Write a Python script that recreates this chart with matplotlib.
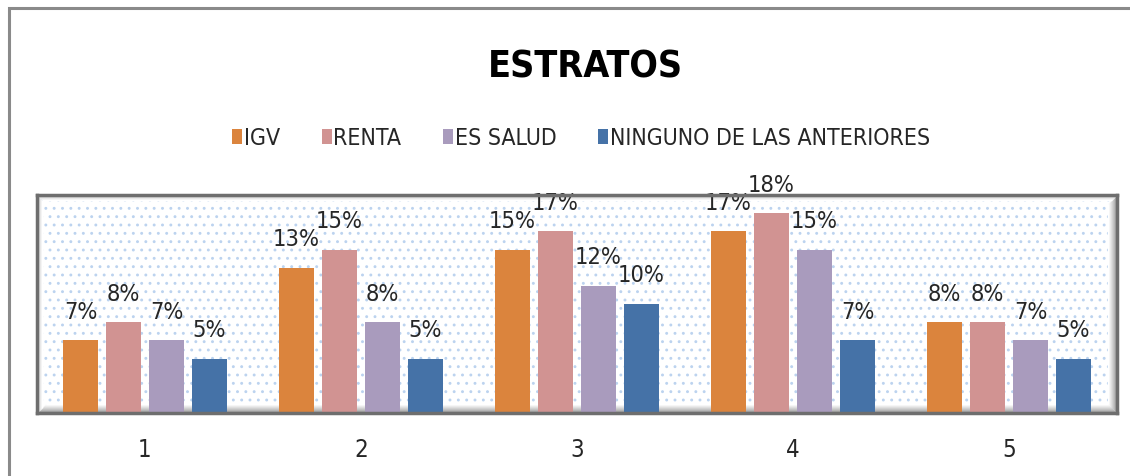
import matplotlib
matplotlib.use("Agg")
import matplotlib.pyplot as plt
from matplotlib.patches import Rectangle, Patch
from matplotlib import font_manager as fm
import numpy as np

# ---- data (percent of respondents) ----
categories = ["1", "2", "3", "4", "5"]
series_names = ["IGV", "RENTA", "ES SALUD", "NINGUNO DE LAS ANTERIORES"]
igv = [6.67, 13.33, 15.00, 16.67, 8.33]
renta = [8.33, 15.00, 16.67, 18.33, 8.33]
es_salud = [6.67, 8.33, 11.67, 15.00, 6.67]
ninguno = [5.00, 5.00, 10.00, 6.67, 5.00]
title = "ESTRATOS"

series = [igv, renta, es_salud, ninguno]
colors = ["#DB843D", "#D19392", "#A99BBD", "#4572A7"]


def find_narrow(bold):
    """Return path of a narrow/condensed font face if installed."""
    cands = []
    for f in fm.fontManager.ttflist:
        nm = f.name.lower()
        fn = f.fname.lower()
        narrow = ("narrow" in nm or "narrow" in fn or "condensed" in fn
                  or "condensed" in nm or f.stretch in ("condensed", "semi-condensed"))
        if not narrow:
            continue
        if f.style != "normal" or "italic" in fn or "oblique" in fn:
            continue
        w = f.weight if isinstance(f.weight, int) else fm.weight_dict.get(f.weight, 400)
        if bold and w < 600:
            continue
        if not bold and w >= 600:
            continue
        if not bold and w < 350:
            continue
        score = 0
        if "liberation" in nm:
            score = 3
        elif "dejavu" in nm and "sans" in nm and "mono" not in nm:
            score = 2
        elif "sans" in nm:
            score = 1
        cands.append((score, f.fname))
    if not cands:
        return None
    cands.sort(reverse=True)
    return cands[0][1]


reg_path = find_narrow(False)
bold_path = find_narrow(True)


def fprops(size, bold=False):
    path = bold_path if bold else reg_path
    if path:
        return fm.FontProperties(fname=path, size=size)
    return fm.FontProperties(family=["Lato", "DejaVu Sans"], size=size,
                             weight="bold" if bold else "normal")


W, H = 1130, 476
fig = plt.figure(figsize=(W / 100, H / 100), dpi=100)
fig.patch.set_facecolor("white")
renderer = fig.canvas.get_renderer()


def fit(text, size, bold, target_px):
    t = fig.text(0, 0, text, fontproperties=fprops(size, bold))
    w = t.get_window_extent(renderer).width
    t.remove()
    return size * min(1.0, target_px / w)


title_size = fit(title, 31.5, True, 196)
label_size = fit("13%", 19, False, 47)
tick_size = label_size * 1.02
leg_size = fit("NINGUNO DE LAS ANTERIORES", 17.2, False, 322)

# plot area in pixels: left 37, right 1117, top 195, bottom 413
ax = fig.add_axes([37 / W, (H - 413) / H, 1080 / W, 218 / H])
ax.set_facecolor("white")

plt.rcParams["hatch.linewidth"] = 0.9
bg = Rectangle((0, 0), 1, 1, transform=ax.transAxes, facecolor="white",
               edgecolor="#BCD3EF", hatch="..", lw=0, zorder=0)
ax.add_patch(bg)

# bevel shading inside frame
axw, axh = 1080.0, 218.0
for k in range(1, 10):
    g = 0.50 + 0.50 * (k / 9.0) ** 0.8
    c = (g, g, g)
    ax.plot([k / axw, 1 - k / axw], [k / axh, k / axh], transform=ax.transAxes,
            color=c, lw=1.0, zorder=1, solid_capstyle="butt")
    ax.plot([1 - k / axw, 1 - k / axw], [k / axh, 1 - k / axh], transform=ax.transAxes,
            color=c, lw=1.0, zorder=1, solid_capstyle="butt")
for k in range(1, 6):
    g = 0.75 + 0.25 * (k / 5.0)
    c = (g, g, g)
    ax.plot([k / axw, 1 - k / axw], [1 - k / axh, 1 - k / axh], transform=ax.transAxes,
            color=c, lw=1.0, zorder=1, solid_capstyle="butt")
    ax.plot([k / axw, k / axw], [k / axh, 1 - k / axh], transform=ax.transAxes,
            color=c, lw=1.0, zorder=1, solid_capstyle="butt")

x = np.arange(len(categories))
step = 0.199
bw = 0.162
offsets = (np.arange(len(series)) - (len(series) - 1) / 2) * step

for vals, name, col, off in zip(series, series_names, colors, offsets):
    bars = ax.bar(x + off, vals, width=bw, color=col, label=name, zorder=3)
    for b, v in zip(bars, vals):
        ax.annotate(f"{v:.0f}%", (b.get_x() + b.get_width() / 2, b.get_height()),
                    xytext=(0, 12), textcoords="offset points", ha="center", va="bottom",
                    fontproperties=fprops(label_size), color="#262626", zorder=4,
                    annotation_clip=False)

ax.set_xlim(-0.5, len(categories) - 0.5)
ax.set_ylim(0, 20)
ax.set_yticks([])
ax.set_xticks(x)
ax.set_xticklabels(categories, fontproperties=fprops(tick_size), color="#262626")
ax.tick_params(axis="x", length=0, pad=18)
for s in ax.spines.values():
    s.set_color("#6E6E6E")
    s.set_linewidth(2.5)
    s.set_zorder(5)

# title
fig.text(585 / W, 1 - 78 / H, title, ha="center", va="baseline",
         fontproperties=fprops(title_size, True), color="black")

# legend
handles = [Patch(facecolor=c, edgecolor="none") for c in colors]
fpx = leg_size * 100 / 72
leg = fig.legend(handles, series_names, loc="center", ncol=4,
                 bbox_to_anchor=(581 / W, 1 - 138 / H), frameon=False,
                 prop=fprops(leg_size), handlelength=10 / fpx, handleheight=15 / fpx,
                 handletextpad=1.5 / fpx, columnspacing=42 / fpx, borderpad=0)
for t in leg.get_texts():
    t.set_color("#262626")

# outer chart frame (partially cut off at right/bottom)
fig.add_artist(Rectangle((9 / W, -0.1), 1.2, 1 - 8 / H + 0.1, transform=fig.transFigure,
                         fill=False, edgecolor="#8A8A8A", lw=2.2))

fig.savefig("out.png", dpi=100, facecolor="white")
